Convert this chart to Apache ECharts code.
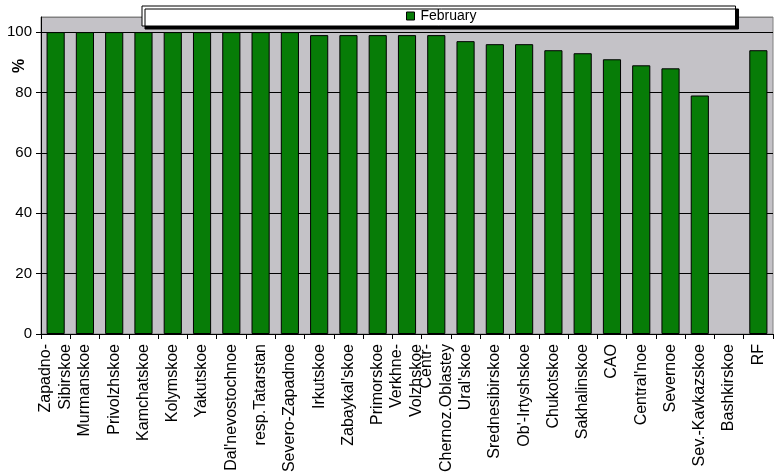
<!DOCTYPE html>
<html><head><meta charset="utf-8">
<script src="https://cdn.jsdelivr.net/npm/echarts@6/dist/echarts.min.js"></script>
<style>html,body{margin:0;padding:0;background:#fff}#c{width:779px;height:476px}</style>
</head><body><div id="c"></div>
<script>
const categories = ["Zapadno-\nSibirskoe","Murmanskoe","Privolzhskoe","Kamchatskoe","Kolymskoe","Yakutskoe","Dal'nevostochnoe","resp.Tatarstan","Severo-Zapadnoe","Irkutskoe","Zabaykal'skoe","Primorskoe","Verkhne-\nVolzhskoe","Centr-\nChernoz.Oblastey","Ural'skoe","Srednesibirskoe","Ob'-Irtyshskoe","Chukotskoe","Sakhalinskoe","CAO","Central'noe","Severnoe","Sev.-Kavkazskoe","Bashkirskoe","RF"];
const february = [100,100,100,100,100,100,100,100,100,99,99,99,99,99,97,96,96,94,93,91,89,88,79,null,94];
const seriesName = "February";
const yTicks = [0,20,40,60,80,100];

const chart = echarts.init(document.getElementById('c'), null, {renderer:'canvas'});
const font = "Liberation Sans, Arial, sans-serif";
chart.setOption({
  animation:false,
  backgroundColor:'#ffffff',
  textStyle:{fontFamily:font},
  grid:{left:41,right:6,top:17,bottom:142,show:true,backgroundColor:'#c4c2c7',borderColor:'#808080',borderWidth:1},
  legend:{
    data:[seriesName], left:142, top:6,
    padding:[3,259,3,264],
    backgroundColor:'#ffffff', borderColor:'#000', borderWidth:1,
    shadowColor:'#000', shadowBlur:0, shadowOffsetX:3, shadowOffsetY:3,
    itemWidth:8,itemHeight:8,itemGap:5, icon:'rect',
    itemStyle:{borderColor:'#000',borderWidth:1},
    textStyle:{fontFamily:font,fontSize:14,color:'#000',padding:[0,0,0,1]}
  },
  graphic:[{type:'text',x:12,y:73,rotation:Math.PI/2,style:{text:'%',font:'bold 16px '+font,fill:'#000'}}],
  xAxis:{
    type:'category', data:categories, boundaryGap:true,
    axisLine:{lineStyle:{color:'#000',width:1}},
    axisTick:{show:true,alignWithLabel:false,length:5,lineStyle:{color:'#000'}},
    axisLabel:{rotate:90,interval:0,margin:10,fontSize:16,fontFamily:font,color:'#000',lineHeight:20}
  },
  yAxis:{
    type:'value', min:0, max:105, interval:20,
    axisLine:{show:true,lineStyle:{color:'#000',width:1}},
    axisTick:{show:true,length:5,lineStyle:{color:'#000'}},
    axisLabel:{margin:9,fontSize:15,fontFamily:font,color:'#000',showMaxLabel:false,
      formatter:function(v){return yTicks.indexOf(v)>=0?String(v):'';}},
    splitLine:{show:true,lineStyle:{color:['#000','#000','#000','#000','#000','#000','#808080'],width:1}}
  },
  series:[{
    name:seriesName, type:'bar', data:february,
    barWidth:'62%',
    itemStyle:{color:'#077c07',borderColor:'#000',borderWidth:1}
  }]
});
</script></body></html>
